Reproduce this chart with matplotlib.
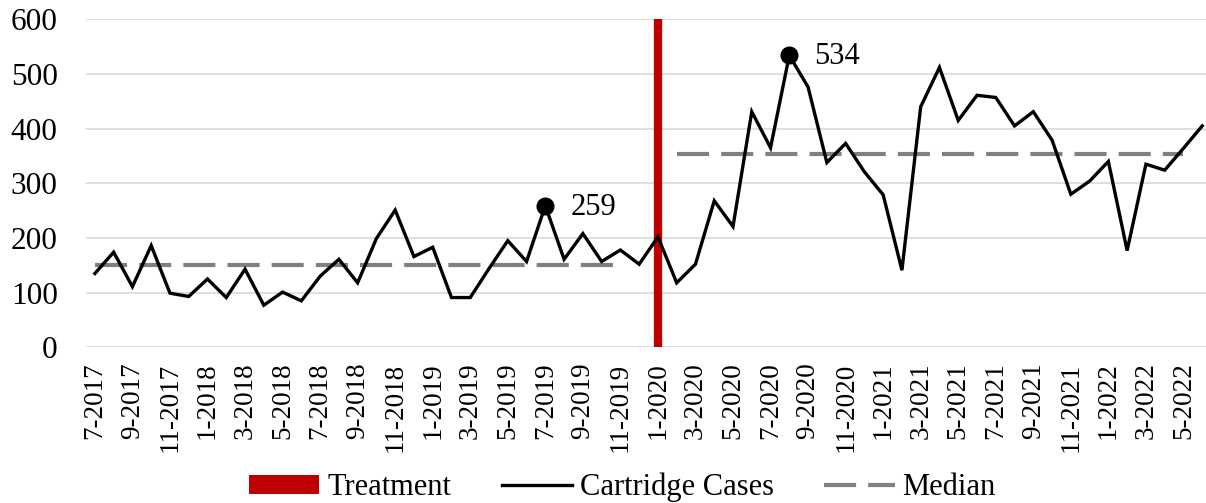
import matplotlib
matplotlib.use("Agg")
import matplotlib.pyplot as plt
from matplotlib.patches import Patch
from matplotlib.lines import Line2D
import numpy as np

months = ["7-2017", "8-2017", "9-2017", "10-2017", "11-2017", "12-2017",
          "1-2018", "2-2018", "3-2018", "4-2018", "5-2018", "6-2018",
          "7-2018", "8-2018", "9-2018", "10-2018", "11-2018", "12-2018",
          "1-2019", "2-2019", "3-2019", "4-2019", "5-2019", "6-2019",
          "7-2019", "8-2019", "9-2019", "10-2019", "11-2019", "12-2019",
          "1-2020", "2-2020", "3-2020", "4-2020", "5-2020", "6-2020",
          "7-2020", "8-2020", "9-2020", "10-2020", "11-2020", "12-2020",
          "1-2021", "2-2021", "3-2021", "4-2021", "5-2021", "6-2021",
          "7-2021", "8-2021", "9-2021", "10-2021", "11-2021", "12-2021",
          "1-2022", "2-2022", "3-2022", "4-2022", "5-2022", "6-2022"]

cartridge_cases = [135, 174, 111, 186, 99, 93, 125, 91, 143, 77,
                   101, 85, 130, 161, 118, 199, 251, 166, 183, 91,
                   91, 144, 195, 157, 259, 161, 208, 157, 178, 152,
                   202, 118, 152, 268, 221, 431, 365, 534, 476, 338,
                   373, 321, 279, 141, 440, 512, 415, 461, 457, 405,
                   431, 379, 280, 304, 340, 177, 335, 324, 364, 405]

treatment_month = "1-2020"
pre_median = 150
pre_median_span = ("7-2017", "11-2019")
post_median = 353
post_median_span = ("2-2020", "5-2022")
labelled_points = ["7-2019", "8-2020"]

FONT = "Liberation Serif"
plt.rcParams["font.family"] = [FONT, "DejaVu Serif"]

fig = plt.figure(figsize=(12.06, 5.03), dpi=100)
ax = fig.add_axes([85.5 / 1206, 1 - 347.3 / 503, 1126.1 / 1206, (347.3 - 19.3) / 503])

x = np.arange(len(months))
idx = {m: i for i, m in enumerate(months)}

# gridlines
ax.set_ylim(0, 600)
ax.set_yticks(range(0, 601, 100))
ax.yaxis.grid(True, color="#D9D9D9", linewidth=1.2)
ax.set_axisbelow(True)
for s in ax.spines.values():
    s.set_visible(False)

# treatment line
ax.axvline(idx[treatment_month], color="#C00000", linewidth=6, solid_capstyle="butt", zorder=2)

# median series
dash = (7.7, 2.9)
pre = np.full(len(months), np.nan)
pre[idx[pre_median_span[0]]:idx[pre_median_span[1]] + 1] = pre_median
post = np.full(len(months), np.nan)
post[idx[post_median_span[0]]:idx[post_median_span[1]] + 1] = post_median
for ser in (pre, post):
    ax.plot(x, ser, color="#808080", linewidth=3, dashes=dash, dash_capstyle="butt", zorder=3)

# main series
ax.plot(x, cartridge_cases, color="black", linewidth=2.4, zorder=4, solid_joinstyle="miter")

for m in labelled_points:
    i = idx[m]
    v = cartridge_cases[i]
    ax.plot([i], [v], "o", color="black", markersize=12, zorder=5)
    ax.annotate(str(v), (i, v), xytext=(18, -1), textcoords="offset points",
                va="center", ha="left", fontsize=22, family=FONT)

ax.set_xlim(-0.5, len(months) - 0.5)
ax.set_xticks(x[::2])
ax.set_xticklabels(months[::2], rotation=90, fontsize=19.5, va="top", ha="center")
ax.tick_params(axis="x", length=0, pad=11)
ax.tick_params(axis="y", length=0, pad=20, labelsize=22.5)

handles = [Patch(facecolor="#C00000", edgecolor="none"),
           Line2D([], [], color="black", linewidth=2.4),
           Line2D([], [], color="#808080", linewidth=3, dashes=dash, dash_capstyle="butt")]
fig.legend(handles, ["Treatment", "Cartridge Cases", "Median"], ncol=3, loc="center",
           bbox_to_anchor=(0.516, 0.031), frameon=False, fontsize=22,
           handlelength=2.3, handletextpad=0.25, columnspacing=1.66, borderpad=0,
           handleheight=0.6)

fig.savefig("out.png", dpi=100)
